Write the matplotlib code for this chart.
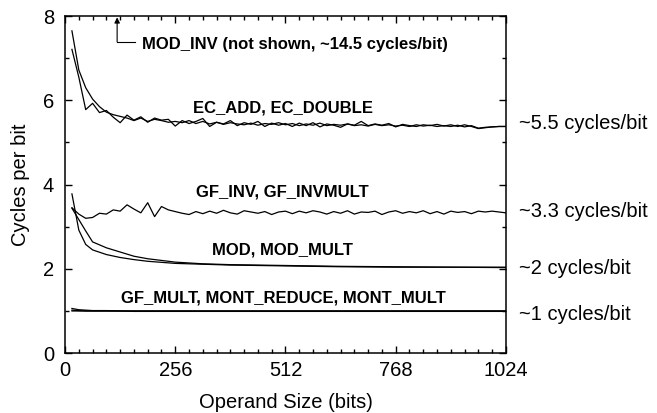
import numpy as np
import matplotlib
matplotlib.use("Agg")
import matplotlib.pyplot as plt
from matplotlib.ticker import MultipleLocator

plt.rcParams['font.family'] = ['Liberation Sans', 'DejaVu Sans']

# operand sizes, 16-bit steps for the noisy curves
bits = np.arange(16, 1025, 16)

ec_add = [7.65, 6.72, 6.30, 6.03, 5.85, 5.72, 5.66, 5.62, 5.58, 5.52, 5.58, 5.50,
          5.55, 5.52, 5.48, 5.50, 5.47, 5.52, 5.45, 5.50, 5.44, 5.48, 5.43, 5.47,
          5.44, 5.42, 5.46, 5.41, 5.45, 5.43, 5.47, 5.42, 5.45, 5.40, 5.44, 5.41,
          5.46, 5.40, 5.43, 5.41, 5.44, 5.40, 5.42, 5.39, 5.43, 5.40, 5.42, 5.39,
          5.41, 5.38, 5.42, 5.39, 5.41, 5.38, 5.40, 5.38, 5.41, 5.37, 5.40, 5.34,
          5.36, 5.37, 5.38, 5.38]
ec_double = [7.21, 6.55, 5.78, 5.93, 5.71, 5.76, 5.60, 5.47, 5.65, 5.53, 5.61, 5.48,
             5.58, 5.53, 5.55, 5.39, 5.52, 5.45, 5.50, 5.57, 5.38, 5.48, 5.44, 5.52,
             5.40, 5.47, 5.43, 5.50, 5.38, 5.46, 5.41, 5.45, 5.38, 5.46, 5.40, 5.47,
             5.37, 5.44, 5.41, 5.36, 5.44, 5.41, 5.50, 5.40, 5.44, 5.41, 5.45, 5.37,
             5.43, 5.40, 5.38, 5.42, 5.40, 5.43, 5.39, 5.42, 5.38, 5.42, 5.38, 5.33,
             5.35, 5.37, 5.38, 5.38]
gf_inv = [3.45, 3.30, 3.20, 3.22, 3.32, 3.30, 3.40, 3.37, 3.52, 3.42, 3.33, 3.57,
          3.24, 3.48, 3.40, 3.36, 3.32, 3.29, 3.36, 3.31, 3.37, 3.32, 3.39, 3.33,
          3.30, 3.38, 3.35, 3.32, 3.36, 3.29, 3.35, 3.37, 3.31, 3.37, 3.33, 3.38,
          3.35, 3.30, 3.36, 3.32, 3.38, 3.30, 3.35, 3.34, 3.37, 3.29, 3.35, 3.38,
          3.32, 3.36, 3.33, 3.38, 3.31, 3.36, 3.30, 3.37, 3.34, 3.36, 3.31, 3.37,
          3.35, 3.37, 3.35, 3.33]

# smooth curves, sparser sampling
bits_s = [16, 32, 48, 64, 96, 128, 160, 192, 256, 320, 384, 512, 640, 768, 896, 1024]
mod = [3.78, 2.92, 2.58, 2.45, 2.34, 2.27, 2.22, 2.18, 2.13, 2.11, 2.09, 2.07,
       2.05, 2.04, 2.04, 2.03]
mod_mult = [3.44, 3.17, 2.90, 2.64, 2.50, 2.40, 2.30, 2.24, 2.16, 2.12, 2.10, 2.08,
            2.06, 2.05, 2.04, 2.04]
gf_mult = [1.06, 1.03, 1.02, 1.01, 1.01, 1.00, 1.00, 1.00, 1.00, 1.00, 1.00, 1.00,
           1.00, 1.00, 1.00, 1.00]
mont_reduce = [1.02, 1.01, 1.00, 1.00, 1.00, 1.00, 1.00, 1.00, 1.00, 1.00, 1.00, 1.00,
               1.00, 1.00, 1.00, 1.00]
mont_mult = [1.00, 1.00, 1.00, 1.00, 1.00, 1.00, 0.99, 0.99, 0.99, 0.99, 0.99, 0.99,
             0.99, 0.99, 0.99, 0.99]

fig = plt.figure(figsize=(6.57, 4.13), dpi=100)
ax = fig.add_axes([0.099, 0.145, 0.671, 0.816])

lw = 0.9
for ys in (ec_add, ec_double, gf_inv):
    ax.plot(bits, ys, color="k", lw=lw)
for ys in (mod, mod_mult, gf_mult, mont_reduce, mont_mult):
    ax.plot(bits_s, ys, color="k", lw=lw)

ax.set_xlim(0, 1024)
ax.set_ylim(0, 8)
ax.xaxis.set_major_locator(MultipleLocator(256))
ax.xaxis.set_minor_locator(MultipleLocator(32))
ax.yaxis.set_major_locator(MultipleLocator(2))
ax.yaxis.set_minor_locator(MultipleLocator(1))
ax.tick_params(which="both", direction="in", top=True, right=True,
               labelsize=14.5, width=1)
ax.tick_params(which="major", length=5)
ax.tick_params(axis="x", which="major", pad=6)
ax.tick_params(axis="y", which="major", pad=8)
ax.tick_params(which="minor", length=3)
for s in ax.spines.values():
    s.set_linewidth(1.1)

ax.set_xlabel("Operand Size (bits)", fontsize=14.5, labelpad=9)
ax.set_ylabel("Cycles per bit", fontsize=14.5, labelpad=9)

# curve labels
bold = dict(fontsize=12, fontweight="bold", ha="center", va="center")
ax.text(506, 5.82, "EC_ADD, EC_DOUBLE", **bold)
ax.text(504, 3.82, "GF_INV, GF_INVMULT", **bold)
ax.text(506, 2.45, "MOD, MOD_MULT", **bold)
ax.text(508, 1.31, "GF_MULT, MONT_REDUCE, MONT_MULT", **bold)

# MOD_INV pointer (off the chart)
ax.annotate("", xy=(121, 7.97), xytext=(121, 7.39),
            arrowprops=dict(arrowstyle="-|>", color="k", lw=0.8,
                            mutation_scale=8, shrinkA=0, shrinkB=0))
ax.plot([121, 162], [7.39, 7.39], color="k", lw=0.8)
ax.text(179, 7.33, "MOD_INV (not shown, ~14.5 cycles/bit)", fontsize=12,
        fontweight="bold", ha="left", va="center")

# right-hand summary labels
right = dict(fontsize=14.5, ha="left", va="center", transform=ax.get_yaxis_transform())
ax.text(1.03, 5.44, "~5.5 cycles/bit", **right)
ax.text(1.03, 3.35, "~3.3 cycles/bit", **right)
ax.text(1.03, 2.02, "~2 cycles/bit", **right)
ax.text(1.03, 0.92, "~1 cycles/bit", **right)

fig.savefig("out.png", dpi=100)
